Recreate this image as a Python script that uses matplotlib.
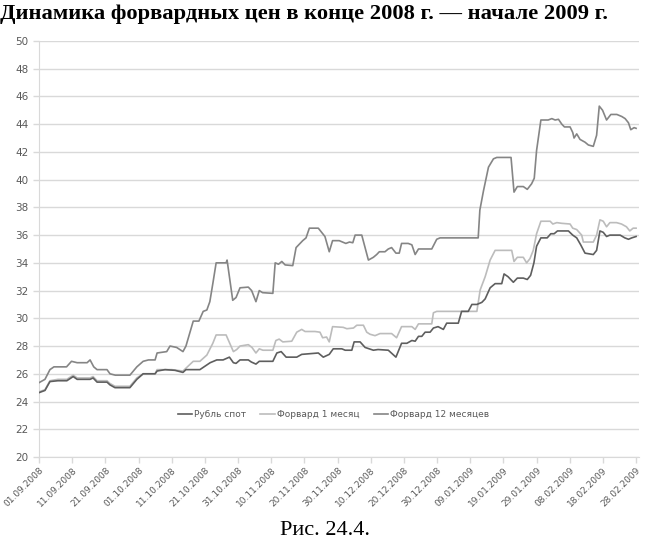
import matplotlib
matplotlib.use("Agg")
import matplotlib.pyplot as plt

# days since 01.09.2008
spot_days = [0, 1.8, 3.3, 5.7, 8.4, 10.3, 11.5, 15.4, 16.3, 17.5, 20.5, 21.4, 22.9, 27.4,
             29.5, 31.4, 35, 35.6, 38, 41, 43.4, 44.3, 48.5, 51.6, 53.6, 55.5, 57.4, 58.6,
             59.4, 60.6, 63.1, 64, 65.4, 66.4, 70.5, 71.7, 73, 74.5, 77.7, 79.2, 84.2, 85.7,
             87.5, 88.7, 91.3, 92.3, 94.3, 95, 96.8, 98.3, 100.8, 102.2, 105.3, 107.6, 109.3,
             110.9, 112.4, 113.4, 114.4, 115.4, 116.4, 117.9, 118.9, 120.3, 121.9, 122.9,
             126.4, 127.4, 129.4, 130.5, 132, 133.5, 134.5, 136, 137.5, 139.5, 140.2, 141.4,
             143, 144.2, 146, 147.2, 148.2, 149.2, 150, 151.3, 153.2, 154.3, 155.3, 156.3,
             159.6, 160.9, 162.1, 163.3, 164.6, 167.1, 168.1, 169.1, 170.1, 171.1, 172.1,
             175.2, 176.6, 177.7, 178.7, 180]
spot = [24.64, 24.8, 25.44, 25.5, 25.5, 25.8, 25.6, 25.6, 25.7, 25.4, 25.4, 25.2, 25.0, 25.0,
        25.6, 26.0, 26.0, 26.2, 26.3, 26.25, 26.1, 26.3, 26.3, 26.8, 27.0, 27.0, 27.2, 26.8,
        26.75, 27.0, 27.0, 26.85, 26.7, 26.9, 26.9, 27.5, 27.6, 27.2, 27.2, 27.4, 27.5, 27.2,
        27.4, 27.8, 27.8, 27.7, 27.7, 28.3, 28.3, 27.9, 27.7, 27.75, 27.7, 27.2, 28.2,
        28.2, 28.4, 28.35, 28.7, 28.7, 29.0, 29.0, 29.3, 29.4, 29.2, 29.65,
        29.65, 30.5, 30.5, 31.0, 31.0, 31.15, 31.4, 32.2, 32.5, 32.5, 33.2, 33.0,
        32.6, 32.9, 32.9, 32.8, 33.1, 34.0, 35.2, 35.8, 35.8, 36.1, 36.1, 36.3,
        36.3, 36.0, 35.8, 35.3, 34.7, 34.6, 34.9, 36.3, 36.2, 35.9, 36.0,
        36.0, 35.8, 35.7, 35.8, 35.9]

fwd1_days = [0, 1.8, 3.3, 5.7, 8.4, 10.3, 11.5, 15.4, 16.3, 17.5, 20.5, 21.4, 22.9, 27.4,
             29.5, 31.4, 35, 35.6, 40, 43.4, 46.5, 48.5, 50.6, 52.4, 53.4, 56.4, 58.6, 59.6,
             60.6, 63.1, 64.2, 65.4, 66.4, 67.5, 70.5, 71.4, 72.4, 73.5, 76.2, 77.7, 79.2,
             80.2, 83.2, 84.7, 85.5, 86.7, 87.5, 88.5, 91.7, 92.8, 94.8, 95.8, 97.8, 98.8,
             99.8, 101.3, 102.8, 106.3, 107.8, 109.3, 112.4, 113.4, 114.4, 118.4, 118.9,
             119.9, 132, 133, 134.5, 136, 137.5, 142.5, 143.2, 144.2, 146, 147, 148, 149,
             150, 151.3, 154.1, 154.9, 156.1, 157.6, 160.1, 160.9, 162.1, 163.6, 164.1,
             167.1, 168.1, 169.1, 170.1, 171.1, 172.1, 174.1, 175.6, 177.1, 178.1, 179.1, 180]
fwd1 = [24.7, 24.85, 25.5, 25.6, 25.6, 25.9, 25.7, 25.7, 25.8, 25.5, 25.5, 25.3, 25.1, 25.1,
        25.7, 26.0, 26.0, 26.3, 26.3, 26.2, 26.9, 26.9, 27.35, 28.2, 28.8, 28.8, 27.6, 27.75,
        28.0, 28.1, 27.9, 27.5, 27.8, 27.7, 27.7, 28.4, 28.5, 28.3, 28.35, 29.0, 29.2,
        29.05, 29.05, 29.0, 28.6, 28.65, 28.3, 29.4, 29.35, 29.25, 29.3, 29.5, 29.5, 29.0,
        28.85, 28.75, 28.9, 28.9, 28.6, 29.4, 29.4, 29.2, 29.6, 29.6, 30.4,
        30.5, 30.5, 32.05, 33.0, 34.2, 34.9, 34.9, 34.1, 34.4, 34.4, 34.0, 34.3, 34.9,
        36.1, 37.0, 37.0, 36.8, 36.9, 36.85, 36.8, 36.5, 36.4, 36.0, 35.5,
        35.5, 36.0, 37.1, 37.0, 36.6, 36.9, 36.9, 36.8, 36.6, 36.3, 36.5, 36.5]

fwd12_days = [0, 1.8, 3.3, 4.5, 8.3, 9.8, 11.5, 14.5, 15.4, 16.5, 17.5, 20.5, 21.4, 23, 27.4,
              29.5, 31.4, 33, 35, 35.6, 38.5, 39.5, 41.5, 43.4, 44.3, 46.5, 48.2, 49.5, 50.6,
              51.5, 52.4, 53.4, 56.4, 56.7, 58.4, 59.4, 60.6, 63.1, 64.1, 65.4, 66.4, 67.4,
              70.5, 71.2, 72.2, 73.2, 74.2, 76.5, 77.5, 79.5, 80.5, 81.5, 84.2, 86.2, 87.5,
              88.5, 90.5, 92.5, 93.6, 94.6, 95.3, 97.3, 99.3, 100.8, 101.8, 102.6, 104.3,
              105.3, 106.3, 107.6, 108.6, 109.3, 111.3, 112.4, 113.4, 114.4, 118.4, 119.9,
              120.9, 132.4, 132.9, 134, 135.5, 137, 138, 142.3, 143.2, 144.2, 146, 147.2,
              148.5, 149.3, 150, 151.3, 153.5, 154.6, 155.6, 156.6, 157.6, 158.4, 160.1,
              160.9, 161.3, 162.1, 163.1, 164.6, 165.6, 167.1, 168.1, 168.9, 169.9, 171.1,
              172.4, 174.2, 175.7, 176.7, 177.7, 178.4, 179.4, 180]
fwd12 = [25.36, 25.6, 26.3, 26.5, 26.5, 26.9, 26.8, 26.8, 27.0, 26.5, 26.3, 26.3, 26.0, 25.9, 25.9,
         26.5, 26.9, 27.0, 27.0, 27.5, 27.6, 28.0, 27.9, 27.6, 28.0, 29.8, 29.8, 30.5, 30.6,
         31.2, 32.5, 34.0, 34.0, 34.2, 31.3, 31.5, 32.2, 32.25, 32.0, 31.2, 32.0, 31.85,
         31.8, 34.0, 33.9, 34.1, 33.85, 33.8, 35.1, 35.6, 35.8, 36.5, 36.5, 35.9, 34.8,
         35.6, 35.6, 35.4, 35.5, 35.45, 36.0, 36.0, 34.2, 34.4, 34.6, 34.8, 34.8,
         35.0, 35.1, 34.7, 34.7, 35.4, 35.4, 35.3, 34.6, 35.0, 35.0, 35.7,
         35.8, 35.8, 37.8, 39.2, 40.9, 41.5, 41.6, 41.6, 39.1, 39.5, 39.5, 39.3,
         39.7, 40.1, 42.1, 44.3, 44.3, 44.4, 44.3, 44.35, 44.0, 43.8, 43.8,
         43.4, 43.0, 43.3, 42.9, 42.7, 42.5, 42.4, 43.2, 45.3, 45.0, 44.3,
         44.7, 44.7, 44.55, 44.4, 44.1, 43.6, 43.75, 43.7]

tick_days = list(range(0, 181, 10))
tick_labels = ["01.09.2008", "11.09.2008", "21.09.2008", "01.10.2008", "11.10.2008",
               "21.10.2008", "31.10.2008", "10.11.2008", "20.11.2008", "30.11.2008",
               "10.12.2008", "20.12.2008", "30.12.2008", "09.01.2009", "19.01.2009",
               "29.01.2009", "08.02.2009", "18.02.2009", "28.02.2009"]
series_names = ["Рубль спот", "Форвард 1 месяц", "Форвард 12 месяцев"]

fig = plt.figure(figsize=(6.5, 5.46), dpi=100)
ax = fig.add_axes([0.06, 0.163, 0.9237, 0.762])

ax.plot(spot_days, spot, color="#5e5e5e", lw=1.2, label=series_names[0], zorder=4)
ax.plot(fwd1_days, fwd1, color="#bcbcbc", lw=1.2, label=series_names[1], zorder=3)
ax.plot(fwd12_days, fwd12, color="#858585", lw=1.2, label=series_names[2], zorder=3)

ax.set_xlim(0, 181)
ax.set_ylim(20, 50)
ax.set_yticks(range(20, 51, 2))
ax.set_xticks(tick_days)
ax.set_xticklabels(tick_labels, rotation=45, ha="right", va="top",
                   rotation_mode="anchor", fontsize=6.5, color="#595959")
ax.tick_params(axis="y", labelsize=7.5, labelcolor="#595959", color="#d9d9d9",
               length=4, width=1)
ax.tick_params(axis="x", color="#d9d9d9", length=4, width=1, pad=2)
ax.grid(axis="y", color="#d9d9d9", lw=1)
ax.set_axisbelow(True)
for s in ["top", "right"]:
    ax.spines[s].set_visible(False)
ax.spines["left"].set_color("#d9d9d9")
ax.spines["bottom"].set_color("#d9d9d9")

leg = ax.legend(loc="center", bbox_to_anchor=(0.49, 0.101), ncol=3, frameon=False,
                fontsize=6.5, handlelength=1.6, handletextpad=0.2, columnspacing=1.6)
for t in leg.get_texts():
    t.set_color("#595959")

fig.text(0.0, 0.992, "Динамика форвардных цен в конце 2008 г. — начале 2009 г.",
         family="Liberation Serif", weight="bold", fontsize=16.2, va="top", ha="left")
fig.text(0.5, 0.028, "Рис. 24.4.", family="Liberation Serif", fontsize=16,
         ha="center", va="center")

fig.savefig("out.png", dpi=100)
